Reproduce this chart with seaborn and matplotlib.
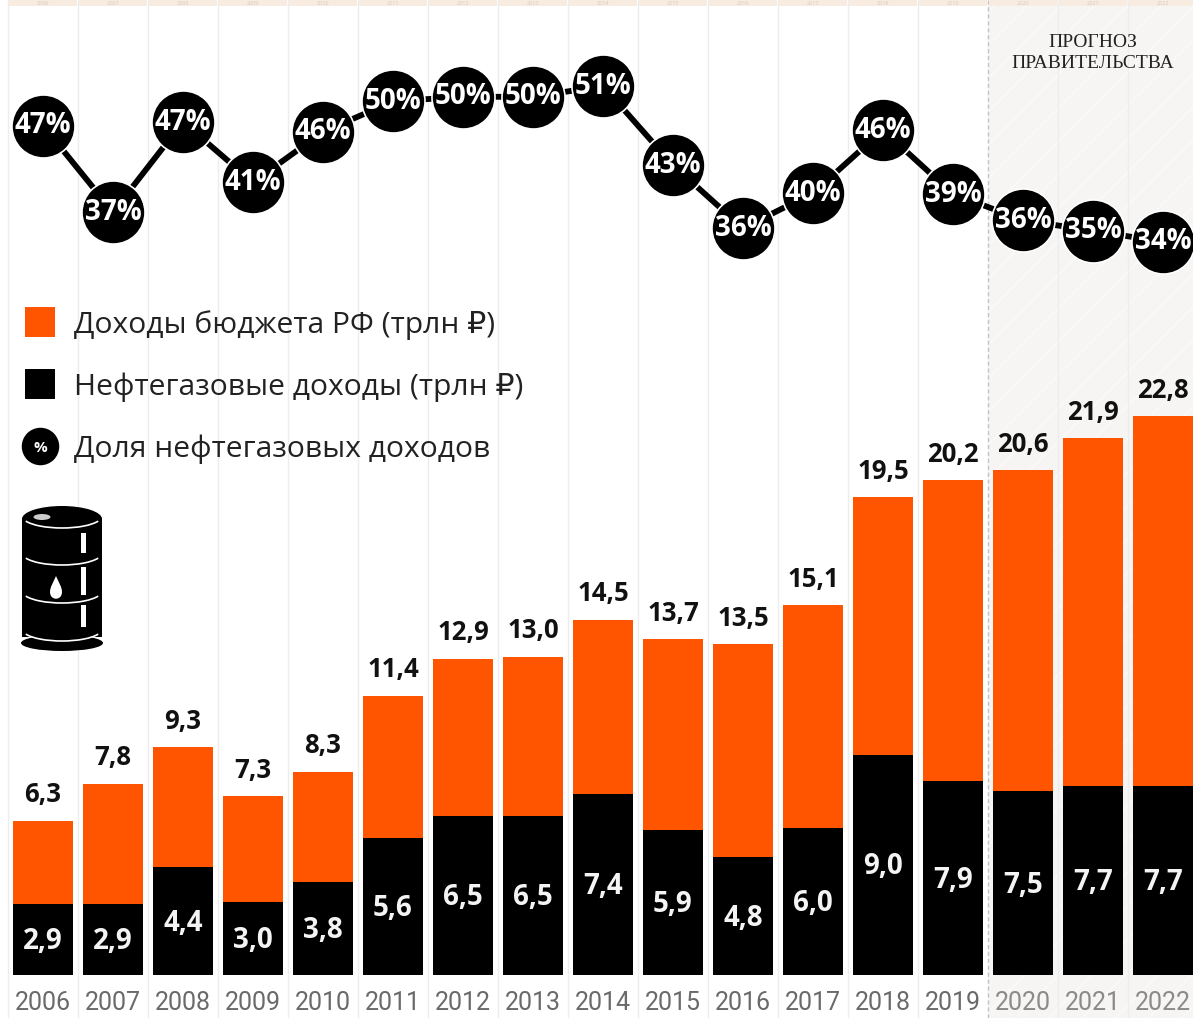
import matplotlib
matplotlib.use("Agg")
import matplotlib.pyplot as plt
from matplotlib.lines import Line2D
from matplotlib.patches import Arc, Ellipse, Rectangle, PathPatch
from matplotlib.path import Path
import seaborn as sns
import pandas as pd

years = ["2006", "2007", "2008", "2009", "2010", "2011", "2012", "2013", "2014",
         "2015", "2016", "2017", "2018", "2019", "2020", "2021", "2022"]
total = [6.3, 7.8, 9.3, 7.3, 8.3, 11.4, 12.9, 13.0, 14.5, 13.7, 13.5, 15.1, 19.5, 20.2, 20.6, 21.9, 22.8]
oil = [2.9, 2.9, 4.4, 3.0, 3.8, 5.6, 6.5, 6.5, 7.4, 5.9, 4.8, 6.0, 9.0, 7.9, 7.5, 7.7, 7.7]
share_pos = [46.6, 37.0, 47.0, 40.3, 45.9, 49.3, 49.8, 49.8, 51.0, 42.2, 35.2, 39.1, 46.1, 39.0, 36.1, 34.9, 33.7]
share_labels = ["47%", "37%", "47%", "41%", "46%", "50%", "50%", "50%", "51%", "43%", "36%",
                "40%", "46%", "39%", "36%", "35%", "34%"]
legend_labels = ["Доходы бюджета РФ (трлн ₽)", "Нефтегазовые доходы (трлн ₽)", "Доля нефтегазовых доходов"]
forecast_title = "ПРОГНОЗ\nПРАВИТЕЛЬСТВА"

ORANGE = "#ff5500"
W, H = 1193, 1018
FONT = ["Open Sans", "DejaVu Sans"]

sns.set_theme(style="white")
plt.rcParams["font.family"] = FONT
plt.rcParams["hatch.linewidth"] = 1.0

df = pd.DataFrame({"year": years, "total": total, "oil": oil, "share": share_pos})

fig = plt.figure(figsize=(W / 100, H / 100), dpi=100, facecolor="white")
ax = fig.add_axes([0, 0, 1, 1])

# background
ax.axvspan(13.5, 17, facecolor="#f6f5f3", edgecolor="#fbfaf8", hatch="/", lw=0, zorder=0)
for i in range(len(years)):
    if i == 14:
        continue
    ax.axvline(i - 0.5, color="#eceeee", lw=1.0, zorder=0.5)
ax.axvline(13.5, color="#c4c2bf", lw=1.0, ls=(0, (3, 2)), zorder=0.6)

# bars
sns.barplot(data=df, x="year", y="total", color=ORANGE, saturation=1, width=60 / 70, ax=ax, zorder=2,
            order=years, linewidth=0)
sns.barplot(data=df, x="year", y="oil", color="black", saturation=1, width=60 / 70, ax=ax, zorder=3,
            order=years, linewidth=0)

for i, (t, o) in enumerate(zip(total, oil)):
    ax.annotate(f"{t:.1f}".replace(".", ","), (i, t), xytext=(0, 18.7), textcoords="offset points",
                ha="center", va="center", fontsize=18.5, fontweight="bold", color="#111111", zorder=6)
    ax.annotate(f"{o:.1f}".replace(".", ","), (i, o / 2), xytext=(0, -1.5), textcoords="offset points",
                ha="center", va="center", fontsize=20, fontweight="bold", color="#f4f4f4", zorder=6)

ax.set_xlim(-43 / 70, (W - 43) / 70)
ax.set_ylim(-43 / 24.5, 975 / 24.5)
ax.set_xlabel("")
ax.set_ylabel("")
ax.set_yticks([])
ax.set_xticks(range(len(years)))
ax.set_xticklabels([])
ax.tick_params(length=0)
for s in ax.spines.values():
    s.set_visible(False)

for i, y in enumerate(years):
    ax.annotate(y, (i, 0), xytext=(0, -20), textcoords="offset points", ha="center", va="center",
                fontsize=18, color="#6a6a6a" if i < 14 else "#8a8a8a", zorder=6, family=["Roboto"])

# header strip
for i, y in enumerate(years):
    ax.add_patch(Rectangle((i - 0.5 + 0.01, 1 - 6 / H), 0.98, 6 / H, transform=ax.get_xaxis_transform(),
                           facecolor="#f8ebe0", edgecolor="none", zorder=7))
    ax.annotate(y, (i, 1), xycoords=ax.get_xaxis_transform(), xytext=(0, -2.2), textcoords="offset points",
                ha="center", va="center", fontsize=4, color="#d8ccc0", zorder=8)

# share line on a twin axis
ax2 = ax.twinx()
sns.lineplot(data=df, x="year", y="share", color="black", lw=4.2, sort=False, ax=ax2, zorder=3)
sns.scatterplot(data=df, x="year", y="share", s=2060, color="black", edgecolor="white", linewidth=1.2,
                ax=ax2, zorder=4)
for i, (v, lab) in enumerate(zip(share_pos, share_labels)):
    ax2.annotate(lab, (i, v), ha="center", va="center", fontsize=20, fontweight="bold",
                 color="white", zorder=6)
ax2.set_xlim(ax.get_xlim())
ax2.set_ylim((545 - H) / 9, 545 / 9)
ax2.set_xlabel("")
ax2.set_ylabel("")
ax2.set_yticks([])
ax2.grid(False)
for s in ax2.spines.values():
    s.set_visible(False)

fig.text(1093 / W, 1 - 53 / H, forecast_title, ha="center", va="center", fontsize=14, linespacing=1.25,
         color="#222222", family=["Liberation Serif"])

# legend
handles = [
    Line2D([], [], marker="s", ls="", color=ORANGE, markersize=21.5, markeredgewidth=0),
    Line2D([], [], marker="s", ls="", color="black", markersize=21.5, markeredgewidth=0),
    Line2D([], [], marker="o", ls="", color="black", markersize=27, markeredgewidth=0),
]
leg = ax2.legend(handles, legend_labels, loc="upper left", bbox_to_anchor=(19 / W, 1 - 310 / H),
                 bbox_transform=fig.transFigure, frameon=False, fontsize=21.6, labelspacing=1.08,
                 handletextpad=0.45, handlelength=1.4, borderpad=0, borderaxespad=0, labelcolor="#222222")
fig.text(40 / W, 1 - 448 / H, "%", ha="center", va="center", fontsize=11, fontweight="bold", color="white", zorder=20)

# barrel icon
bx = fig.add_axes([20 / W, 1 - 651 / H, 84 / W, 146 / H])
bx.set_xlim(0, 84)
bx.set_ylim(146, 0)
bx.axis("off")
bx.patch.set_alpha(0)
bx.add_patch(Rectangle((2, 14), 80, 118, facecolor="black", edgecolor="none"))
bx.add_patch(Ellipse((42, 138), 82, 16, facecolor="black", edgecolor="none"))
bx.add_patch(Ellipse((42, 14), 80, 26, facecolor="black", edgecolor="none"))
bx.add_patch(Ellipse((22, 12), 17, 6, facecolor="#cccccc", edgecolor="none"))
for yy in (23, 60, 98, 136):
    bx.add_patch(Arc((42, yy - 12), 80, 24, theta1=8, theta2=172, edgecolor="white", lw=1.2))
for y0, y1 in ((28, 48), (62, 90), (100, 122)):
    bx.add_patch(Rectangle((61, y0), 5, y1 - y0, facecolor="white", edgecolor="none"))
drop = Path([(36, 71), (33, 78), (30, 82), (30, 87), (30, 96), (42, 96), (42, 87), (42, 82), (39, 78), (36, 71)],
            [Path.MOVETO, Path.CURVE4, Path.CURVE4, Path.CURVE4, Path.CURVE4, Path.CURVE4, Path.CURVE4,
             Path.CURVE4, Path.CURVE4, Path.CURVE4])
bx.add_patch(PathPatch(drop, facecolor="white", edgecolor="none"))

fig.savefig("out.png", dpi=100, facecolor="white")
